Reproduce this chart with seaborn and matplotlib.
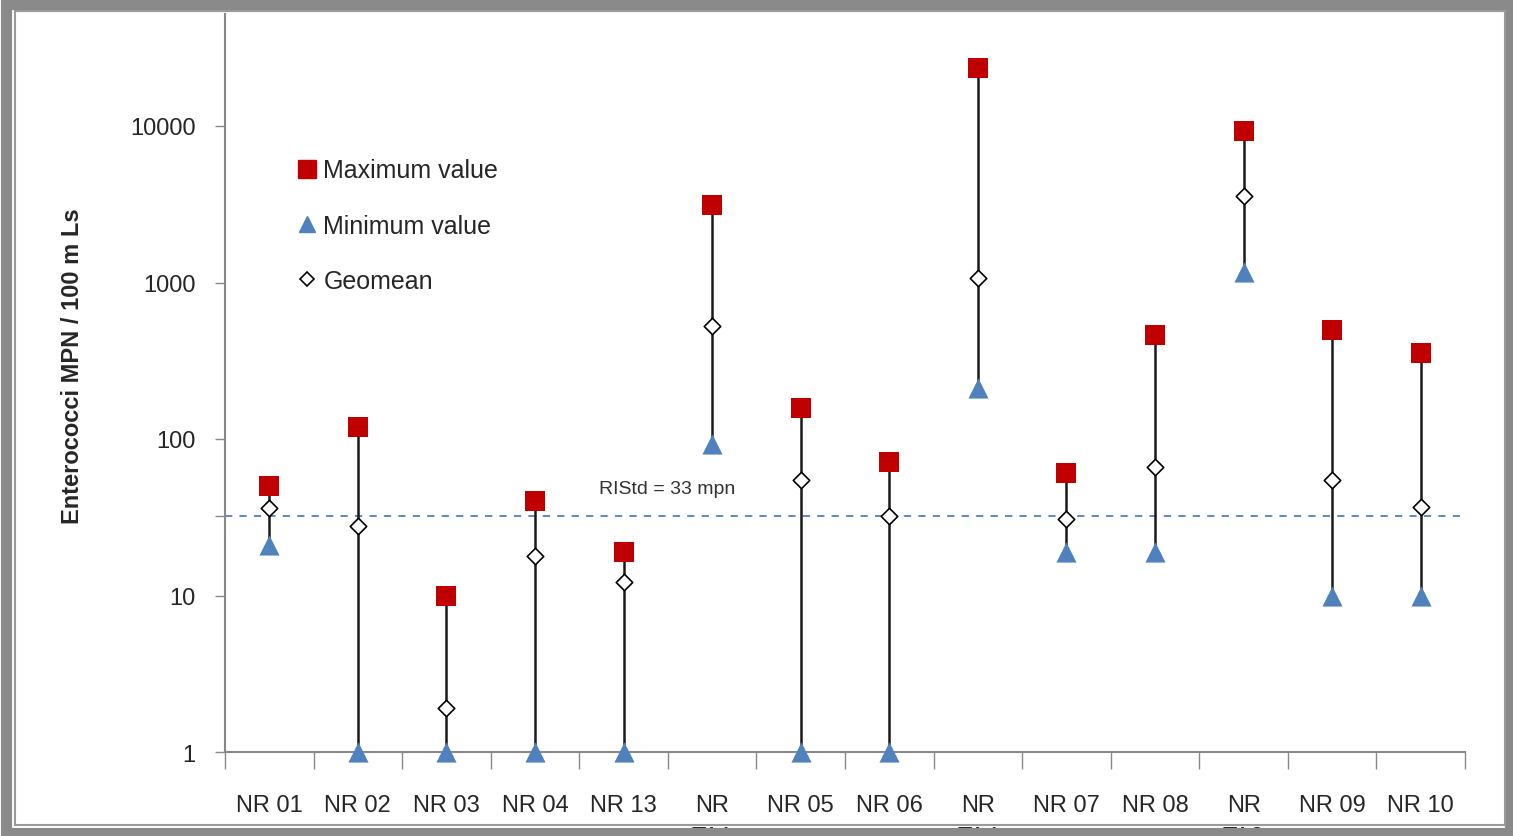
import matplotlib
matplotlib.use("Agg")
import matplotlib.pyplot as plt
import seaborn as sns
import pandas as pd
import numpy as np
from matplotlib.patches import Rectangle
from matplotlib.lines import Line2D
from matplotlib.ticker import FixedLocator, NullFormatter

sites = ["NR 01", "NR 02", "NR 03", "NR 04", "NR 13", "NR\nTA1", "NR 05", "NR 06",
         "NR\nTA4", "NR 07", "NR 08", "NR\nTA2", "NR 09", "NR 10"]
max_vals = [50, 120, 10, 40, 19, 3150, 158, 71, 23500, 61, 460, 9300, 495, 352]
min_vals = [21, 1, 1, 1, 1, 93, 1, 1, 212, 19, 19, 1160, 10, 10]
geo_vals = [36, 28, 1.9, 18, 12.2, 530, 55, 32, 1070, 31, 66, 3570, 55, 37]
ref_value = 32
ref_label = "RIStd = 33 mpn"
y_label = "Enterococci MPN / 100 m Ls"

sns.set_style("white")
plt.rcParams["font.family"] = ["Liberation Sans", "DejaVu Sans"]

df = pd.DataFrame({"site": sites, "max": max_vals, "min": min_vals, "geo": geo_vals})

fig = plt.figure(figsize=(15.13, 8.37), dpi=100)
ax = fig.add_axes([225/1513, 1-753/837, 1240/1513, 738/837])

ax.vlines(df["site"], df["min"], df["max"], color="#1a1a1a", lw=1.8, zorder=1)
sns.scatterplot(data=df, x="site", y="max", marker="s", s=190, color="#C00000",
                edgecolor="#C00000", linewidth=0, ax=ax, zorder=3, clip_on=False)
sns.scatterplot(data=df, x="site", y="min", marker="^", s=210, color="#4F81BD",
                edgecolor="#4F81BD", linewidth=0, ax=ax, zorder=3, clip_on=False)
sns.scatterplot(data=df, x="site", y="geo", marker="D", s=70, color="white",
                edgecolor="black", linewidth=1.2, ax=ax, zorder=4, clip_on=False)

ax.axhline(ref_value, color="#4F81BD", lw=1.3, ls=(0, (4, 4)), zorder=0.5)
ax.text(4.49, ref_value*1.33, ref_label, ha="center", va="bottom", fontsize=14, color="#333333")

ax.set_yscale("log")
ax.set_ylim(1, 10**(738/156.5))
ax.set_xlim(-0.5, len(sites)-0.5)

ax.yaxis.set_major_locator(FixedLocator([1, 10, 100, 1000, 10000]))
ax.yaxis.set_major_formatter(matplotlib.ticker.FuncFormatter(lambda v, p: f"{int(v)}"))
ax.yaxis.set_minor_locator(FixedLocator([ref_value]))
ax.yaxis.set_minor_formatter(NullFormatter())
ax.tick_params(axis="y", which="both", direction="out", length=7, width=1, color="#888888",
               labelsize=17, pad=14, left=True)
ax.xaxis.set_minor_locator(FixedLocator(np.arange(-0.5, len(sites), 1.0)))
ax.tick_params(axis="x", which="minor", direction="out", length=12, width=1, color="#888888", bottom=True)
ax.tick_params(axis="x", which="major", length=0, labelsize=17, pad=30)
for lab in ax.get_xticklabels():
    lab.set_linespacing(1.6)

for s in ["top", "right"]:
    ax.spines[s].set_visible(False)
for s in ["left", "bottom"]:
    ax.spines[s].set_color("#888888")
    ax.spines[s].set_linewidth(1.5)

ax.set_xlabel("")
ax.set_ylabel(y_label, fontsize=17, fontweight="bold")
ax.yaxis.set_label_coords(-0.114, (753-366)/738)

handles = [
    Line2D([], [], marker="s", ls="", color="#C00000", markersize=13),
    Line2D([], [], marker="^", ls="", color="#4F81BD", markersize=12),
    Line2D([], [], marker="D", ls="", markerfacecolor="white", markeredgecolor="black",
           markersize=7, markeredgewidth=1.2),
]
leg = ax.legend(handles, ["Maximum value", "Minimum value", "Geomean"], loc="upper left",
                bbox_to_anchor=(0.036, 0.835), frameon=False, fontsize=18, handletextpad=0.05,
                handlelength=1.2, labelspacing=1.25)

# outer frame
fig.patches.append(Rectangle((0.004, 0.004), 0.994, 0.99, transform=fig.transFigure,
                             fill=False, edgecolor="#8a8a8a", lw=8, zorder=10))
fig.patches.append(Rectangle((0.010, 0.013), 0.985, 0.973, transform=fig.transFigure,
                             fill=False, edgecolor="#9a9a9a", lw=1.5, zorder=10))

fig.savefig("out.png", dpi=100)
